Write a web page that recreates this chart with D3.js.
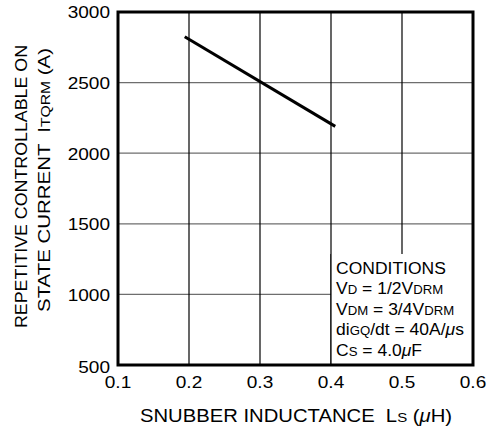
<!DOCTYPE html>
<html><head><meta charset="utf-8">
<script src="https://cdn.jsdelivr.net/npm/d3@7"></script>
<style>
html,body{margin:0;padding:0;background:#fff;}
text{font-family:"Liberation Sans",Arial,sans-serif;fill:#000;white-space:pre;}
</style></head>
<body>
<svg id="chart" width="488" height="430"></svg>
<script>
const xTicks = [0.1, 0.2, 0.3, 0.4, 0.5, 0.6];
const yTicks = [500, 1000, 1500, 2000, 2500, 3000];
const curveX = [0.194, 0.406];
const curveY = [2825, 2190];
const conditions = [
  [["CONDITIONS", 0]],
  [["V", 0], ["D", 1], [" = 1/2V", 0], ["DRM", 1]],
  [["V", 0], ["DM", 1], [" = 3/4V", 0], ["DRM", 1]],
  [["di", 0], ["GQ", 1], ["/dt = 40A/", 0], ["μ", 2], ["s", 0]],
  [["C", 0], ["S", 1], [" = 4.0", 0], ["μ", 2], ["F", 0]]
];

const svg = d3.select("#chart");
const L = 118, R = 473, T = 12, B = 365;
const x = d3.scaleLinear().domain([0.1, 0.6]).range([L, R]);
const y = d3.scaleLinear().domain([500, 3000]).range([B, T]);

// grid
svg.append("g").selectAll("line").data(yTicks.slice(1, -1)).join("line")
  .attr("x1", L).attr("x2", R).attr("y1", d => y(d)).attr("y2", d => y(d))
  .attr("stroke", "#6e6e6e").attr("stroke-width", 1.2);
svg.append("g").selectAll("line").data(xTicks.slice(1, -1)).join("line")
  .attr("y1", T).attr("y2", B).attr("x1", d => x(d)).attr("x2", d => x(d))
  .attr("stroke", "#000").attr("stroke-width", 1.2);

// conditions box
const boxTop = 254;
svg.append("rect").attr("x", x(0.4)).attr("y", boxTop)
  .attr("width", R - x(0.4)).attr("height", B - boxTop).attr("fill", "#fff");
svg.append("line").attr("x1", x(0.4)).attr("x2", x(0.4)).attr("y1", boxTop).attr("y2", B)
  .attr("stroke", "#000").attr("stroke-width", 1.2);

const ct = svg.append("g");
conditions.forEach((parts, i) => {
  const t = ct.append("text")
    .attr("transform", `translate(${x(0.4) + 5},${273.5 + i * 20.6}) scale(1.03,1)`)
    .attr("font-size", 17);
  parts.forEach(([s, k]) => {
    const ts = t.append("tspan").text(s);
    if (k === 1) ts.attr("font-size", 12.8);
    if (k === 2) ts.attr("font-style", "italic");
  });
});

// curve
svg.append("path")
  .datum(curveX.map((d, i) => [d, curveY[i]]))
  .attr("d", d3.line().x(d => x(d[0])).y(d => y(d[1])))
  .attr("fill", "none").attr("stroke", "#000").attr("stroke-width", 3);

// frame
svg.append("rect").attr("x", L).attr("y", T).attr("width", R - L).attr("height", B - T)
  .attr("fill", "none").attr("stroke", "#000").attr("stroke-width", 3);

// tick labels
svg.append("g").selectAll("text").data(yTicks).join("text")
  .attr("transform", d => `translate(110,${y(d) + (d === 500 ? 7.5 : 6.3)}) scale(1.12,1)`)
  .attr("text-anchor", "end")
  .attr("font-size", 17).text(d => d);
svg.append("g").selectAll("text").data(xTicks).join("text")
  .attr("transform", d => `translate(${x(d)},388) scale(1.12,1)`)
  .attr("text-anchor", "middle")
  .attr("font-size", 17).text(d => d3.format(".1f")(d));

// x title
const xt = svg.append("text").attr("x", 296).attr("y", 422)
  .attr("text-anchor", "middle").attr("font-size", 17.5)
  .attr("textLength", 312).attr("lengthAdjust", "spacingAndGlyphs");
xt.append("tspan").text("SNUBBER INDUCTANCE  L");
xt.append("tspan").attr("font-size", 13).text("S");
xt.append("tspan").text(" (");
xt.append("tspan").attr("font-style", "italic").text("μ");
xt.append("tspan").text("H)");

// y title
svg.append("text").attr("transform", `translate(27,186.5) rotate(-90)`)
  .attr("text-anchor", "middle").attr("font-size", 17)
  .attr("textLength", 283).attr("lengthAdjust", "spacingAndGlyphs")
  .text("REPETITIVE CONTROLLABLE ON");
const yt = svg.append("text").attr("transform", `translate(50,180) rotate(-90)`)
  .attr("text-anchor", "middle").attr("font-size", 17)
  .attr("textLength", 264).attr("lengthAdjust", "spacingAndGlyphs");
yt.append("tspan").text("STATE CURRENT  I");
yt.append("tspan").attr("font-size", 13).text("TQRM");
yt.append("tspan").text(" (A)");
</script>
</body></html>
